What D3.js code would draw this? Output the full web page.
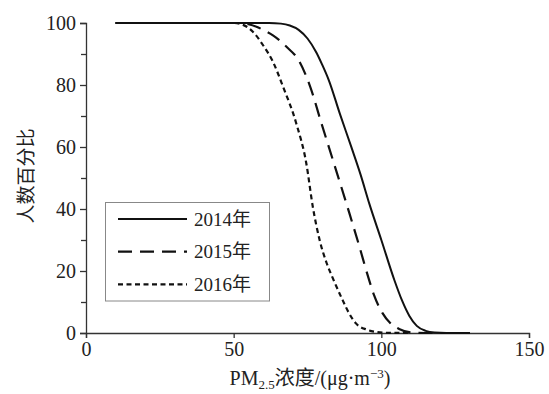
<!DOCTYPE html>
<html><head><meta charset="utf-8">
<script src="https://cdn.jsdelivr.net/npm/d3@7"></script>
<style>body{margin:0;background:#fff}svg{display:block}text{font-family:"Liberation Serif","Times New Roman","Noto Sans CJK SC",serif;fill:#222}</style>
</head><body><svg id="c" width="549" height="394"></svg>
<script>
const series = ["2014年","2015年","2016年"];
const x2014 = [10,62,66,69,72,75,78,80,82.2,86,89.8,93,95.9,100,104.4,107,109.5,112,115,118,122,130];
const y2014 = [100,100,99.8,99.2,97.8,95,90.5,86.5,81.6,70.6,60.1,51,41.8,30,17.1,10.5,5.5,2.3,0.7,0.15,0,0];
const x2015 = [10,52,55,57.7,60.5,63.3,67.8,72.3,75.9,79.7,83.6,89.2,92.6,95.7,97.5,100.4,103,106,110,115,130];
const y2015 = [100,100,99.6,98.8,97.5,96,92.4,87.5,79.5,67.7,55.8,38.6,27.8,17.6,12.3,6.4,3.2,1.3,0.2,0,0];
const x2016 = [10,50,53.2,56.5,59.9,63.3,66.7,71.2,74.6,76.8,79.1,81.5,83.6,86.9,89,91.4,95,98.2,103,110];
const y2016 = [100,100,99.4,97.2,92.9,87.5,79.5,67.6,54.7,40.7,30,22.5,17.6,10.6,6.5,3.1,1.1,0.35,0.05,0];
const xTicks = [0,50,100,150];
const yTicks = [0,20,40,60,80,100];
const yMinor = [10,30,50,70,90];

const svg = d3.select("#c");
const x = d3.scaleLinear().domain([0,150]).range([86,529]);
const y = d3.scaleLinear().domain([0,100]).range([333,23]);
const axisColor = "#333";

// axes
const gx = svg.append("g").attr("transform",`translate(0,${y(0)})`)
  .call(d3.axisBottom(x).tickValues(xTicks).tickSize(5).tickPadding(4));
const gy = svg.append("g").attr("transform",`translate(${x(0)},0)`)
  .call(d3.axisLeft(y).tickValues(yTicks).tickSize(6).tickPadding(4));
svg.append("g").attr("transform",`translate(${x(0)},0)`)
  .call(d3.axisLeft(y).tickValues(yMinor).tickSize(5).tickFormat(""))
  .select(".domain").remove();
svg.selectAll(".domain").attr("stroke",axisColor).attr("stroke-width",1.3);
svg.selectAll(".tick line").attr("stroke",axisColor).attr("stroke-width",1.3);
svg.selectAll(".tick text").style("font-size","20px").attr("fill","#222");
gy.selectAll(".tick text").attr("dy","0.34em");
gx.selectAll(".tick text").attr("dy","0.7em");

// lines
const data = [
  {name:series[0], xs:x2014, ys:y2014, dash:null, w:2},
  {name:series[1], xs:x2015, ys:y2015, dash:"14,8", w:2.2},
  {name:series[2], xs:x2016, ys:y2016, dash:"5,3.5", w:2.2}
];
const line = d3.line().x(d=>x(d[0])).y(d=>y(d[1])).curve(d3.curveMonotoneX);
data.slice().reverse().forEach(s=>{
  svg.append("path").datum(s.xs.map((v,i)=>[v,s.ys[i]]))
    .attr("d",line).attr("fill","none").attr("stroke","#111")
    .attr("stroke-width",s.w).attr("stroke-dasharray",s.dash);
});

// legend
const lg = svg.append("g");
lg.append("rect").attr("x",105.5).attr("y",202.5).attr("width",164).attr("height",98.5)
  .attr("fill","#fff").attr("stroke","#888").attr("stroke-width",1);
data.forEach((s,i)=>{
  const yy = 219 + i*32.7;
  lg.append("line").attr("x1",118).attr("x2",187).attr("y1",yy).attr("y2",yy)
    .attr("stroke","#111").attr("stroke-width",s.w).attr("stroke-dasharray",s.dash);
  lg.append("text").attr("x",194).attr("y",yy).attr("dy","0.35em")
    .style("font-size","19px").text(s.name);
});

// axis titles
const xt = svg.append("text").attr("x",310).attr("y",385).attr("text-anchor","middle").style("font-size","20px");
xt.append("tspan").text("PM");
xt.append("tspan").attr("dy",4).style("font-size","13px").text("2.5");
xt.append("tspan").attr("dy",-4).text("浓度/(μg·m");
xt.append("tspan").attr("dy",-7).style("font-size","13px").text("−3");
xt.append("tspan").attr("dy",7).text(")");
svg.append("text").attr("transform","translate(33,176) rotate(-90)")
  .attr("text-anchor","middle").style("font-size","19px").text("人数百分比");
</script></body></html>
